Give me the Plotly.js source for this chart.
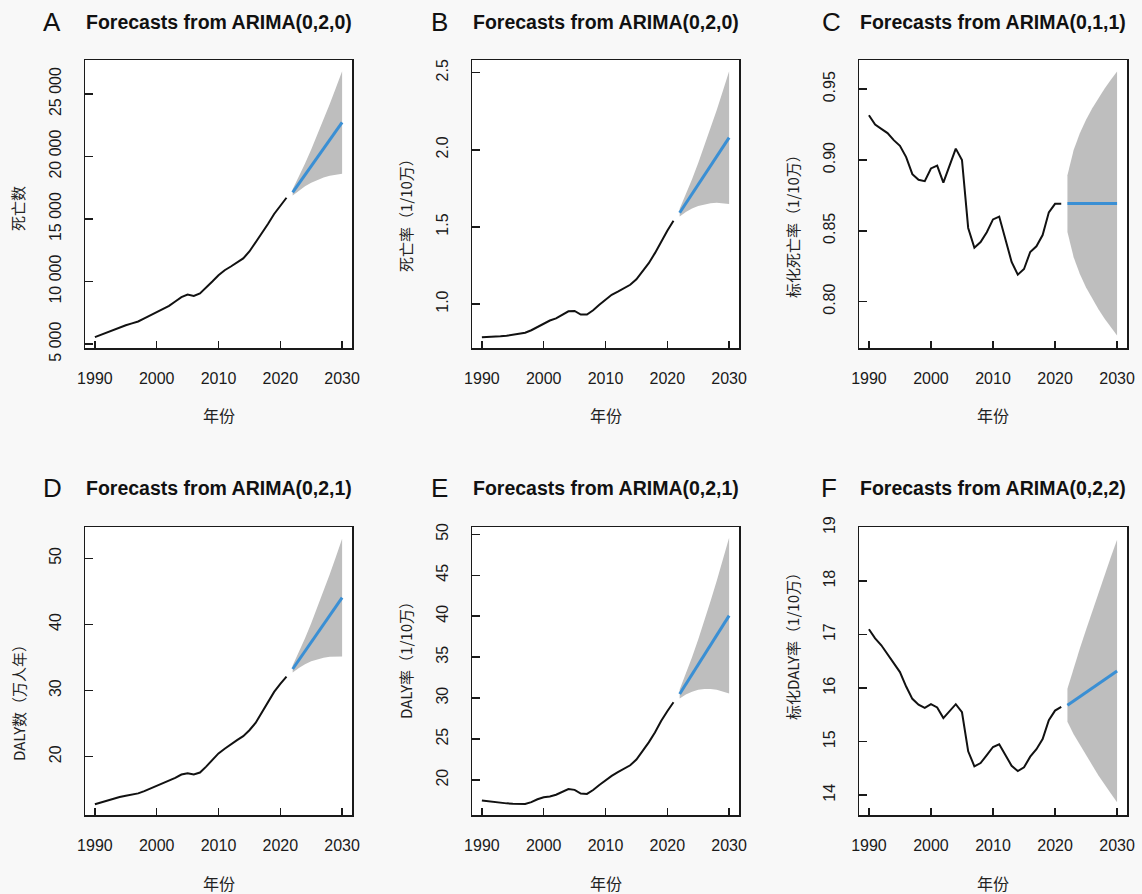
<!DOCTYPE html>
<html>
<head>
<meta charset="utf-8">
<script src="https://cdn.plot.ly/plotly-3.0.1.min.js"></script>
<style>
  html, body { margin: 0; padding: 0; background: #f8f8f8; }
  #chart { width: 1142px; height: 894px; }
</style>
</head>
<body>
<div id="chart"></div>
<script>
// ---------- data ----------
const histYears = [1990,1991,1992,1993,1994,1995,1996,1997,1998,1999,2000,2001,2002,2003,2004,2005,2006,2007,2008,2009,2010,2011,2012,2013,2014,2015,2016,2017,2018,2019,2020,2021];
const fcYears = [2022,2023,2024,2025,2026,2027,2028,2029,2030];
const xTickVals = [1990,2000,2010,2020,2030];
const xTickText = ['1990','2000','2010','2020','2030'];

// A: 死亡数
const deathsHist = [5550,5750,5950,6150,6330,6500,6650,6800,7050,7300,7600,7850,8050,8400,8750,8950,8850,9050,9500,10000,10500,10900,11200,11500,11850,12400,13100,13800,14600,15400,16100,16700];
const deathsMean = [17130,17830,18530,19230,19930,20630,21330,22030,22730];
const deathsLo = [16887,17287,17621,17899,18127,18312,18455,18560,18630];
const deathsHi = [17373,18373,19439,20561,21733,22948,24205,25500,26830];
const deathsTicks = [5000,10000,15000,20000,25000];
const deathsTickText = ['5 000','10 000','15 000','20 000','25 000'];

// B: 死亡率
const rateHist = [0.785,0.786,0.788,0.791,0.794,0.800,0.806,0.814,0.830,0.850,0.875,0.893,0.907,0.932,0.953,0.955,0.932,0.932,0.960,0.995,1.030,1.060,1.080,1.100,1.125,1.160,1.210,1.265,1.330,1.405,1.475,1.540];
const rateMean = [1.592,1.653,1.714,1.775,1.836,1.897,1.957,2.018,2.079];
const rateLo = [1.567,1.596,1.619,1.636,1.647,1.654,1.656,1.654,1.649];
const rateHi = [1.618,1.710,1.809,1.915,2.025,2.140,2.258,2.382,2.509];
const rateTicks = [1.0,1.5,2.0,2.5];
const rateTickText = ['1.0','1.5','2.0','2.5'];

// C: 标化死亡率
const asrHist = [0.9316,0.925,0.922,0.919,0.914,0.910,0.902,0.890,0.886,0.885,0.894,0.896,0.884,0.896,0.908,0.900,0.852,0.838,0.842,0.849,0.858,0.860,0.844,0.828,0.819,0.823,0.835,0.839,0.847,0.863,0.869,0.869];
const asrMean = [0.8692,0.8692,0.8692,0.8692,0.8692,0.8692,0.8692,0.8692,0.8692];
const asrLo = [0.8492,0.8313,0.8195,0.8100,0.8018,0.7945,0.7879,0.7817,0.7760];
const asrHi = [0.8892,0.9071,0.9189,0.9284,0.9366,0.9439,0.9505,0.9567,0.9624];
const asrTicks = [0.80,0.85,0.90,0.95];
const asrTickText = ['0.80','0.85','0.90','0.95'];

// D: DALY数（万人年）
const dalyHist = [12.8,13.1,13.4,13.7,13.9,14.1,14.3,14.45,14.8,15.2,15.6,16.0,16.3,16.8,17.3,17.5,17.3,17.6,18.5,19.5,20.5,21.2,21.9,22.5,23.1,24.0,25.1,26.6,28.1,29.8,31.0,32.1];
const dalyMean = [33.26,34.61,35.96,37.31,38.66,40.00,41.35,42.70,44.05];
const dalyLo = [32.73,33.43,33.99,34.42,34.75,34.97,35.11,35.17,35.15];
const dalyHi = [33.79,35.79,37.93,40.20,42.57,45.03,47.59,50.23,52.95];
const dalyTicks = [20,30,40,50];
const dalyTickText = ['20','30','40','50'];

// E: DALY率
const dalyRateHist = [17.5,17.4,17.3,17.2,17.15,17.1,17.07,17.07,17.3,17.65,17.9,18.0,18.2,18.55,18.9,18.8,18.35,18.3,18.78,19.4,20.0,20.5,20.95,21.35,21.8,22.5,23.5,24.6,25.8,27.2,28.4,29.5];
const dalyRateMean = [30.50,31.70,32.89,34.09,35.28,36.48,37.68,38.87,40.07];
const dalyRateLo = [29.94,30.44,30.78,31.01,31.11,31.11,31.02,30.83,30.57];
const dalyRateHi = [31.06,32.96,35.00,37.17,39.45,41.85,44.34,46.91,49.57];
const dalyRateTicks = [20,25,30,35,40,45,50];
const dalyRateTickText = ['20','25','30','35','40','45','50'];

// F: 标化DALY率
const asDalyHist = [17.10,16.93,16.80,16.63,16.45,16.30,16.03,15.80,15.69,15.63,15.70,15.64,15.44,15.56,15.70,15.55,14.82,14.54,14.60,14.75,14.90,14.95,14.74,14.55,14.45,14.52,14.72,14.86,15.05,15.40,15.58,15.65];
const asDalyMean = [15.68,15.76,15.84,15.92,16.00,16.08,16.16,16.24,16.32];
const asDalyLo = [15.37,15.14,14.94,14.75,14.56,14.37,14.19,14.03,13.87];
const asDalyHi = [15.99,16.38,16.74,17.09,17.44,17.79,18.13,18.45,18.77];
const asDalyTicks = [14,15,16,17,18,19];
const asDalyTickText = ['14','15','16','17','18','19'];

const panelLetters = ['A','B','C','D','E','F'];
const panelTitles = ['Forecasts from ARIMA(0,2,0)','Forecasts from ARIMA(0,2,0)','Forecasts from ARIMA(0,1,1)','Forecasts from ARIMA(0,2,1)','Forecasts from ARIMA(0,2,1)','Forecasts from ARIMA(0,2,2)'];
const yTitles = ['死亡数','死亡率（1/10万）','标化死亡率（1/10万）','DALY数（万人年）','DALY率（1/10万）','标化DALY率（1/10万）'];
const xTitle = '年份';

// ---------- layout geometry (pixels) ----------
const W = 1142, H = 894;
const cols = [[85,352],[472,739],[859,1127]];
const rows = [[60,348],[527,815]];
const yRanges = [[4680,27720],[0.715,2.582],[0.7672,0.9706],[11.18,54.74],[15.73,50.89],[13.63,19.01]];
const titleY = [22,488];
const xTitleY = [415,883];
const yTitleX = [18,405,792];
const yTitleCY = [209,212,223,699,657,643];
const letterX = [52,440,831,52,439,829];

const panels = [
  {hist: deathsHist, mean: deathsMean, lo: deathsLo, hi: deathsHi, tv: deathsTicks, tt: deathsTickText},
  {hist: rateHist, mean: rateMean, lo: rateLo, hi: rateHi, tv: rateTicks, tt: rateTickText},
  {hist: asrHist, mean: asrMean, lo: asrLo, hi: asrHi, tv: asrTicks, tt: asrTickText},
  {hist: dalyHist, mean: dalyMean, lo: dalyLo, hi: dalyHi, tv: dalyTicks, tt: dalyTickText},
  {hist: dalyRateHist, mean: dalyRateMean, lo: dalyRateLo, hi: dalyRateHi, tv: dalyRateTicks, tt: dalyRateTickText},
  {hist: asDalyHist, mean: asDalyMean, lo: asDalyLo, hi: asDalyHi, tv: asDalyTicks, tt: asDalyTickText}
];

const px = x => x / W;
const py = y => 1 - y / H;
const latin = 'Liberation Sans, Arial, sans-serif';
const cjk = 'Noto Sans CJK SC, sans-serif';

const traces = [];
const layout = {
  width: W, height: H,
  margin: {l: 0, r: 0, t: 0, b: 0},
  paper_bgcolor: '#f8f8f8',
  plot_bgcolor: '#ffffff',
  showlegend: false,
  annotations: []
};

panels.forEach((p, i) => {
  const c = i % 3, r = Math.floor(i / 3);
  const sfx = i === 0 ? '' : String(i + 1);
  const xa = 'x' + sfx, ya = 'y' + sfx;

  // prediction band polygon
  traces.push({
    x: fcYears.concat(fcYears.slice().reverse()),
    y: p.hi.concat(p.lo.slice().reverse()),
    xaxis: xa, yaxis: ya,
    type: 'scatter', mode: 'lines', fill: 'toself',
    fillcolor: '#bebebe', line: {width: 0, color: 'rgba(0,0,0,0)'},
    hoverinfo: 'skip'
  });
  // history
  traces.push({
    x: histYears, y: p.hist, xaxis: xa, yaxis: ya,
    type: 'scatter', mode: 'lines', line: {color: '#111111', width: 2}
  });
  // forecast mean
  traces.push({
    x: fcYears, y: p.mean, xaxis: xa, yaxis: ya,
    type: 'scatter', mode: 'lines', line: {color: '#3a8fd4', width: 3}
  });

  const axCommon = {
    showgrid: false, zeroline: false,
    showline: true, mirror: true, linecolor: '#1a1a1a', linewidth: 1.5,
    ticks: 'inside', tickcolor: '#1a1a1a', tickwidth: 1.5,
    tickfont: {family: latin, size: 16, color: '#1a1a1a'}
  };
  layout['xaxis' + sfx] = Object.assign({}, axCommon, {
    domain: [px(cols[c][0]), px(cols[c][1])],
    anchor: ya, range: [1988.4, 2031.6],
    tickmode: 'array', tickvals: xTickVals, ticktext: xTickText,
    ticklen: 7, ticklabelstandoff: 15
  });
  layout['yaxis' + sfx] = Object.assign({}, axCommon, {
    domain: [py(rows[r][1]), py(rows[r][0])],
    anchor: xa, range: yRanges[i],
    tickmode: 'array', tickvals: p.tv, ticktext: p.tt,
    ticklen: 8, tickangle: -90, ticklabelstandoff: 16
  });

  const cx = (cols[c][0] + cols[c][1]) / 2;
  layout.annotations.push({
    text: panelTitles[i], xref: 'paper', yref: 'paper',
    x: px(cx), y: py(titleY[r]), xanchor: 'center', yanchor: 'middle',
    showarrow: false, font: {family: latin, size: 19.5, color: '#111', weight: 'bold'}
  });
  layout.annotations.push({
    text: panelLetters[i], xref: 'paper', yref: 'paper',
    x: px(letterX[i]), y: py(titleY[r]), xanchor: 'center', yanchor: 'middle',
    showarrow: false, font: {family: latin, size: 26, color: '#111'}
  });
  layout.annotations.push({
    text: xTitle, xref: 'paper', yref: 'paper',
    x: px(cx), y: py(xTitleY[r]), xanchor: 'center', yanchor: 'middle',
    showarrow: false, font: {family: cjk, size: 16, color: '#222'}
  });
  layout.annotations.push({
    text: yTitles[i], xref: 'paper', yref: 'paper', textangle: -90,
    x: px(yTitleX[c]), y: py(yTitleCY[i]), xanchor: 'center', yanchor: 'middle',
    showarrow: false, font: {family: cjk, size: 15, color: '#222'}
  });
});

Plotly.newPlot('chart', traces, layout, {staticPlot: true, displayModeBar: false});
</script>
</body>
</html>
